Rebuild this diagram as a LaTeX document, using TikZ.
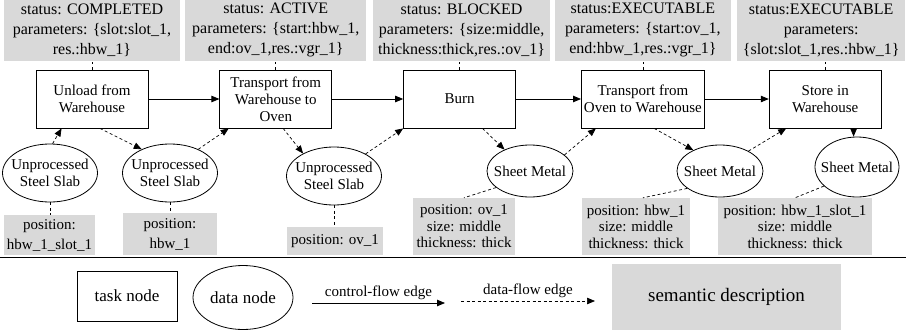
\documentclass[tikz,border=0pt]{standalone}
\usepackage{fontspec}
\setmainfont{Liberation Serif}
\usepackage{xcolor}
\usepackage{tikz}
\usetikzlibrary{shapes.geometric, arrows.meta, positioning}

\definecolor{descgray}{RGB}{217,217,217}

\begin{document}
\begin{tikzpicture}[
    x=1pt, y=-1pt,
    task/.style={draw, line width=0.8pt, minimum width=112pt, minimum height=58pt, inner sep=1pt, align=center, font=\fontsize{15}{17}\selectfont},
    data/.style={draw, ellipse, line width=0.8pt, inner xsep=-8pt, inner ysep=0pt, align=center, font=\fontsize{15}{17}\selectfont},
    slab/.style={data, minimum width=95pt, minimum height=58pt},
    sheet/.style={data, minimum width=86pt, minimum height=52pt},
    desc/.style={fill=descgray, inner sep=0pt, align=center, font=\fontsize{16}{20}\selectfont},
    posbox/.style={desc, font=\fontsize{15}{16.5}\selectfont},
    ctrl/.style={-{Triangle[length=8pt, width=6.5pt]}, line width=0.8pt},
    flow/.style={-{Triangle[length=8pt, width=6.5pt]}, line width=0.7pt, dash pattern=on 3pt off 2.5pt},
    link/.style={line width=0.7pt, dash pattern=on 3pt off 2.5pt}
]
\useasboundingbox (0,0) rectangle (906,335);

% Task nodes
\node[task] (unload) at (92,99) {Unload from\\Warehouse};
\node[task, right=71pt of unload] (tr1) {Transport from\\Warehouse to\\Oven};
\node[task, right=71pt of tr1] (burn) {Burn};
\node[task, minimum width=123pt, right=65pt of burn] (tr2) {Transport from\\Oven to Warehouse};
\node[task, right=64pt of tr2] (store) {Store in\\Warehouse};

% Task descriptions
\node[desc, minimum width=176pt, minimum height=62pt, above=8pt of unload] (sunload) {status: COMPLETED\\parameters: \{slot:slot\_1,\\res.:hbw\_1\}};
\node[desc, minimum width=181pt, minimum height=62pt, above=8pt of tr1] (str1) {status: ACTIVE\\parameters: \{start:hbw\_1,\\end:ov\_1,res.:vgr\_1\}};
\node[desc, minimum width=177pt, minimum height=62pt, above=8pt of burn, xshift=2pt] (sburn) {status: BLOCKED\\parameters: \{size:middle,\\thickness:thick,res.:ov\_1\}};
\node[desc, minimum width=176pt, minimum height=62pt, above=8pt of tr2] (str2) {status:EXECUTABLE\\parameters: \{start:ov\_1,\\end:hbw\_1,res.:vgr\_1\}};
\node[desc, minimum width=168pt, minimum height=62pt, above=8pt of store, xshift=-4pt] (sstore) {status:EXECUTABLE\\parameters:\\\{slot:slot\_1,res.:hbw\_1\}};

% Data nodes
\node[slab] (slab1) at (50,173) {Unprocessed\\Steel Slab};
\node[slab] (slab2) at (170,173) {Unprocessed\\Steel Slab};
\node[slab] (slab3) at (334,176) {Unprocessed\\Steel Slab};
\node[sheet] (sheet1) at (530,171) {Sheet Metal};
\node[sheet] (sheet2) at (720,171) {Sheet Metal};
\node[sheet, minimum width=84pt, minimum height=60pt] (sheet3) at (857,167) {Sheet Metal};

% Data descriptions
\node[desc, font=\fontsize{15}{20}\selectfont, minimum width=91pt, minimum height=40pt] (pslab1) at (49.5,235) {position:\\hbw\_1\_slot\_1};
\node[desc, font=\fontsize{15}{20}\selectfont, minimum width=94pt, minimum height=42pt] (pslab2) at (170,234) {position:\\hbw\_1};
\node[posbox, minimum width=96pt, minimum height=28pt] (pslab3) at (335,241) {position: ov\_1};
\node[posbox, minimum width=102pt, minimum height=57pt] (psheet1) at (464,226.5) {position: ov\_1\\size: middle\\thickness: thick};
\node[posbox, minimum width=108pt, minimum height=57pt] (psheet2) at (636,226.5) {position: hbw\_1\\size: middle\\thickness: thick};
\node[posbox, minimum width=154pt, minimum height=57pt] (psheet3) at (795,226.5) {position: hbw\_1\_slot\_1\\size: middle\\thickness: thick};

% Control flow
\draw[ctrl] (unload) -- (tr1);
\draw[ctrl] (tr1) -- (burn);
\draw[ctrl] (burn) -- (tr2);
\draw[ctrl] (tr2) -- (store);

% Data flow
\draw[flow] (slab1.85) -- (unload.224);
\draw[flow] (unload.285) -- (slab2.140);
\draw[flow] (slab2.40) -- (tr1.212);
\draw[flow] (tr1.284) -- (slab3.144);
\draw[flow] (slab3.35) -- (burn.south west);
\draw[flow] (burn.308) -- (sheet1.140);
\draw[flow] (sheet1.25) -- (tr2.212);
\draw[flow] (tr2.291) -- (sheet2.142);
\draw[flow] (sheet2.35) -- (store.217);
\draw[flow] (store.314) -- (store.314 |- sheet3.north);

% Description links
\draw[link] (unload.north) -- (unload.north |- sunload.south);
\draw[link] (tr1.north) -- (tr1.north |- str1.south);
\draw[link] (burn.north) -- (burn.north |- sburn.south);
\draw[link] (tr2.north) -- (tr2.north |- str2.south);
\draw[link] (store.north) -- (store.north |- sstore.south);
\draw[link] (slab1.south) -- (slab1.south |- pslab1.north);
\draw[link] (slab2.south) -- (slab2.south |- pslab2.north);
\draw[link] (slab3.south) -- (slab3.south |- pslab3.north);
\draw[link] (sheet1.206) -- (psheet1.north);
\draw[link] (sheet2.208) -- ([xshift=7pt]psheet2.north);
\draw[link] (sheet3.210) -- (psheet3.north);

% Legend
\draw[line width=1.2pt] (0,257.5) -- (906,257.5);
\node[task, minimum width=100pt, minimum height=50pt, font=\fontsize{17}{20}\selectfont] (ltask) at (127,296) {task node};
\node[data, minimum width=100pt, minimum height=64pt, font=\fontsize{17}{20}\selectfont] (ldata) at (243,297.5) {data node};
\coordinate (cfa) at (312,303);
\coordinate (cfb) at (445,303);
\draw[ctrl] (cfa) -- node[above, font=\fontsize{15}{17}\selectfont] {control-flow edge} (cfb);
\coordinate (dfa) at (461,301);
\coordinate (dfb) at (595,301);
\draw[flow] (dfa) -- node[above, font=\fontsize{15}{17}\selectfont] {data-flow edge} (dfb);
\node[desc, minimum width=229pt, minimum height=66pt, font=\fontsize{19}{22}\selectfont] (ldesc) at (726.5,297) {semantic description};

\end{tikzpicture}
\end{document}
